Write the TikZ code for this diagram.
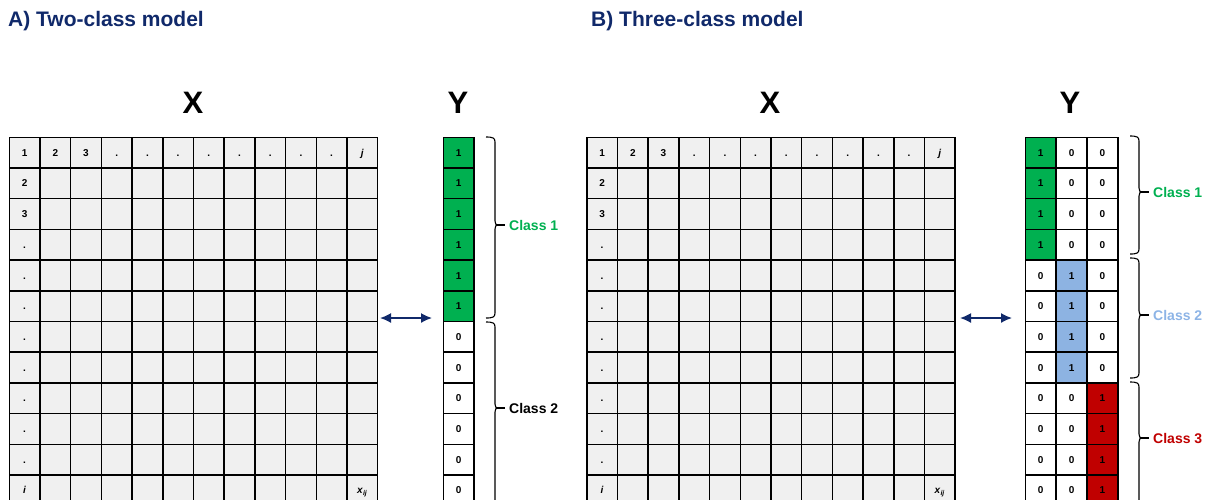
\documentclass[tikz,border=0pt]{standalone}
\usepackage{fontspec}
\setmainfont{Liberation Sans}
\usetikzlibrary{arrows.meta}
\definecolor{navy}{HTML}{10296A}
\definecolor{gridgray}{HTML}{F0F0F0}
\definecolor{cls1}{HTML}{00B050}
\definecolor{cls2}{HTML}{8DB3E2}
\definecolor{cls3}{HTML}{C00000}
\definecolor{lab1}{HTML}{00B050}
\definecolor{lab2}{HTML}{8DB4E6}
\definecolor{lab3}{HTML}{C00000}
\newcommand\classbrace[7]{% #1 x of hook, #2 ytop, #3 ytip, #4 ybot, #5 colour, #6 number, #7 panel
  \draw[bracestyle] ({#1},{#2}) .. controls ({#1+7},{#2}) and ({#1+9},{#2+1}) .. ({#1+9},{#2+5})
     -- ({#1+9},{#3-4}) .. controls ({#1+9},{#3-1}) and ({#1+10},{#3}) .. ({#1+12},{#3})
     .. controls ({#1+10},{#3}) and ({#1+9},{#3+1}) .. ({#1+9},{#3+4})
     -- ({#1+9},{#4-5}) .. controls ({#1+9},{#4-1}) and ({#1+7},{#4}) .. ({#1},{#4});
  \coordinate (tip-#7#6) at ({#1+11},{#3});
  \coordinate (dash-#7#6) at ({#1+19},{#3});
  \draw[line width=2pt] (tip-#7#6) -- (dash-#7#6);
  \node[classlab, text=#5, anchor=west] (lab-#7#6) at ({#1+23},{#3}) {Class~#6};
}
\begin{document}
\begin{tikzpicture}[x=1pt,y=-1pt,
  cell/.style={draw=black, line width=1.5pt, minimum width=30.7pt, minimum height=30.7pt,
    inner sep=0pt, anchor=north west, text height=7.2pt, text depth=0pt,
    font=\fontsize{10}{12}\selectfont\bfseries},
  xcell/.style={cell, fill=gridgray},
  ycell/.style={cell, minimum width=30.9pt},
  celltext/.style={font=\fontsize{10}{12}\selectfont\bfseries, inner sep=0pt,
    text height=7.2pt, text depth=0pt},
  title/.style={font=\fontsize{21}{24}\selectfont\bfseries, text=navy, anchor=west, inner sep=0pt},
  matlab/.style={font=\fontsize{31}{34}\selectfont\bfseries, inner sep=0pt},
  classlab/.style={font=\fontsize{14}{16}\selectfont\bfseries, inner sep=0pt},
  bracestyle/.style={draw=black, line width=1.1pt},
  link/.style={draw=navy, line width=1.6pt, {Latex[length=11pt,width=10pt]}-{Latex[length=11pt,width=10pt]}}
]
\useasboundingbox (0,0) rectangle (1209,499);
\clip (0,0) rectangle (1209,499);

% titles
\node[title] (tA) at (8,21) {A) Two-class model};
\node[title] (tB) at (591,21) {B) Three-class model};

% matrix labels
\node[matlab] (XA) at (193,103) {X};
\node[matlab] (YA) at (458,103) {Y};
\node[matlab] (XB) at (770,103) {X};
\node[matlab] (YB) at (1070,103) {Y};

% X grids
\foreach \p/\xo in {A/8.5, B/586}{
  \foreach \r in {1,...,12}{
    \foreach \c in {1,...,12}{
      \node[xcell] (\p-\r-\c) at ({\xo+(\c-1)*30.7},{136.5+(\r-1)*30.7}) {};
    }
  }
  \foreach \t [count=\c] in {1,2,3,.,.,.,.,.,.,.,.,\textit{j}}{
    \node[celltext] (\p-top-\c) at (\p-1-\c) {\t};
  }
  \foreach \t [count=\r from 2] in {2,3,.,.,.,.,.,.,.,.,\textit{i}}{
    \node[celltext] (\p-left-\r) at (\p-\r-1) {\t};
  }
  \node[celltext] (\p-xij) at (\p-12-12) {\textit{x}\textsubscript{\textit{ij}}};
}

% Y column, two-class
\foreach \r in {1,...,12}{
  \ifnum\r<7 \def\cf{cls1}\def\cv{1}\else\def\cf{white}\def\cv{0}\fi
  \node[ycell, fill=\cf] (AY-\r) at (442.5,{136.5+(\r-1)*30.7}) {\cv};
}

% Y matrix, three-class
\foreach \r in {1,...,12}{
  \pgfmathtruncatemacro\k{(\r-1)/4+1}
  \foreach \c in {1,2,3}{
    \ifnum\c=\k \def\cf{cls\k}\def\cv{1}\else\def\cf{white}\def\cv{0}\fi
    \node[ycell, fill=\cf] (BY-\r-\c) at ({1024.5+(\c-1)*30.9},{136.5+(\r-1)*30.7}) {\cv};
  }
}

% arrows
\coordinate (aL) at (380,318);
\coordinate (aR) at (432,318);
\coordinate (bL) at (960,318);
\coordinate (bR) at (1012,318);
\draw[link] (aL) -- (aR);
\draw[link] (bL) -- (bR);

% braces
\classbrace{486}{137}{225}{318}{lab1}{1}{A}
\classbrace{486}{322}{408}{520}{black}{2}{A}
\classbrace{1130}{136}{192}{254}{lab1}{1}{B}
\classbrace{1130}{258}{315}{378}{lab2}{2}{B}
\classbrace{1130}{382}{438}{520}{lab3}{3}{B}
\end{tikzpicture}
\end{document}
